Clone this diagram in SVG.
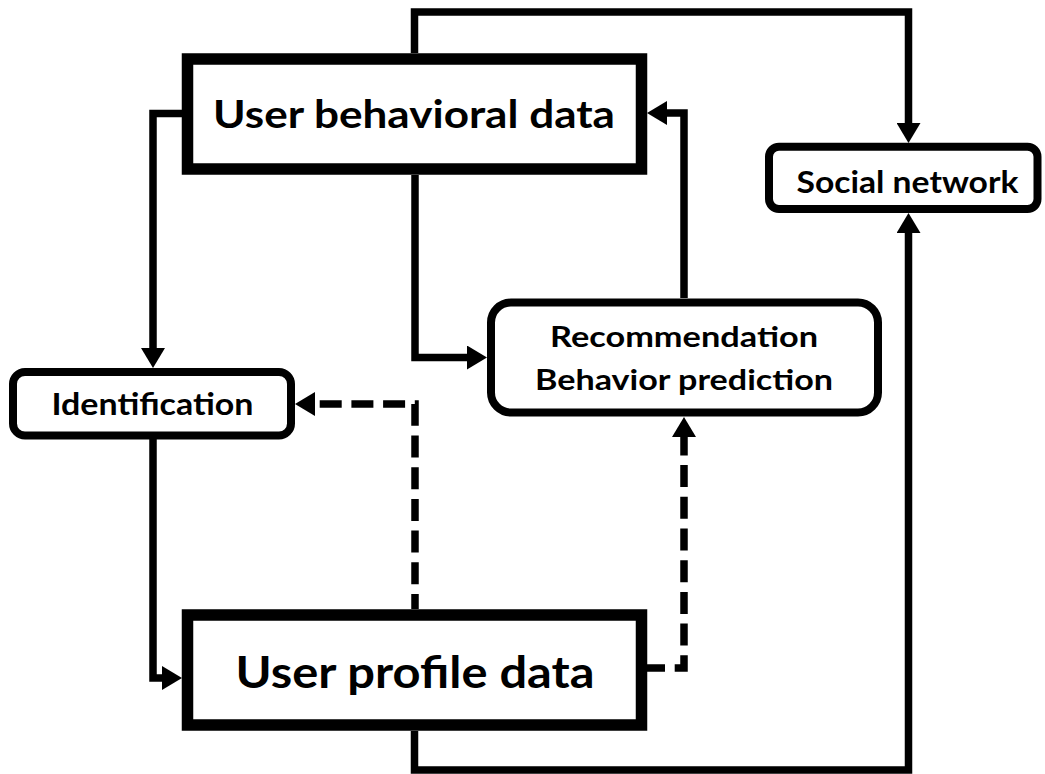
<svg xmlns="http://www.w3.org/2000/svg" width="1045" height="774" viewBox="0 0 1045 774">
<style>
.big{fill:#fff;stroke:#000;stroke-width:11.5}
.rnd{fill:#fff;stroke:#000;stroke-width:8}
.lbl{font-family:Lato,"Open Sans","Liberation Sans",sans-serif;font-weight:700;fill:#000;text-anchor:middle}
.con{fill:none;stroke:#000;stroke-width:7.5;stroke-linejoin:miter;marker-end:url(#ah)}
.plain{fill:none;stroke:#000;stroke-width:7.5;stroke-linejoin:miter}
.dash{stroke-dasharray:22 9.7}
</style>
<defs>
<marker id="ah" markerUnits="userSpaceOnUse" markerWidth="20" markerHeight="24" viewBox="0 0 20 24" refX="0" refY="12" orient="auto"><path d="M0,0 L20,12 L0,24 Z" fill="#000"/></marker>
</defs>
<rect width="1045" height="774" fill="#fff"/>
<g id="connectors">
<path class="con" d="M414.5 53 V12 H908.5 V123"/>
<path class="con" d="M414.5 731 V770 H908.5 V233"/>
<path class="con" d="M182 113.5 H153 V348"/>
<path class="con" d="M153 439 V678 H162"/>
<path class="con" d="M415 175 V357.5 H467"/>
<path class="con" d="M684 298 V113 H667"/>
<path class="con dash" style="stroke-dashoffset:7" d="M415 609 V404 H315"/>
<path class="con dash" style="stroke-dashoffset:4" d="M647 668 H684 V437"/>
</g>
<g id="user-behavioral-data">
<rect class="big" x="187.5" y="59" width="454" height="110"/>
<text class="lbl" x="414" y="128" font-size="39" textLength="402" lengthAdjust="spacingAndGlyphs">User behavioral data</text>
</g>
<g id="social-network">
<rect class="rnd" x="769" y="146.7" width="268.5" height="62.3" rx="10"/>
<text class="lbl" x="907.5" y="193" font-size="30" textLength="222" lengthAdjust="spacingAndGlyphs">Social network</text>
</g>
<g id="identification">
<rect class="rnd" x="13" y="372" width="278" height="63.5" rx="12"/>
<text class="lbl" x="152.5" y="415" font-size="30" textLength="202" lengthAdjust="spacingAndGlyphs">Identification</text>
</g>
<g id="recommendation">
<rect class="rnd" x="491" y="302.5" width="387" height="110" rx="20"/>
<text class="lbl" x="684" y="347" font-size="28" textLength="268" lengthAdjust="spacingAndGlyphs">Recommendation</text>
<text class="lbl" x="684" y="390" font-size="28" textLength="298" lengthAdjust="spacingAndGlyphs">Behavior prediction</text>
</g>
<g id="user-profile-data">
<rect class="big" x="187.5" y="615" width="454" height="110"/>
<text class="lbl" x="415" y="688" font-size="44" textLength="359" lengthAdjust="spacingAndGlyphs">User profile data</text>
</g>
</svg>
